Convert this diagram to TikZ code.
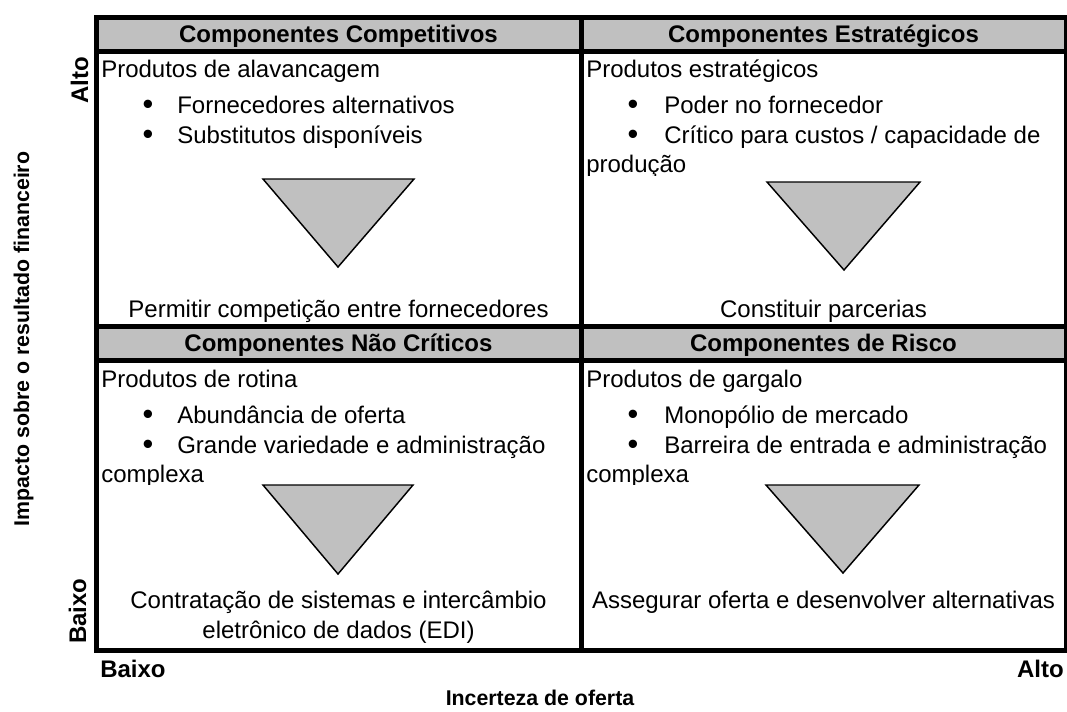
\documentclass[tikz,border=0pt]{standalone}
\usepackage{fontspec}
\setmainfont{Liberation Sans}
\usepackage{xcolor}
\definecolor{bandgray}{RGB}{192,192,192}

\begin{document}
\begin{tikzpicture}[x=0.75pt,y=0.75pt,yscale=-1,xscale=1,
  txt/.style={inner sep=0pt,font=\fontsize{18}{21.6}\selectfont},
  dot/.style={inner sep=0pt,anchor=base,font=\fontsize{23}{24}\selectfont},
  head/.style={inner sep=0pt,anchor=base,font=\fontsize{18}{21.6}\selectfont\bfseries},
  axis/.style={inner sep=0pt,font=\fontsize{18}{21.6}\selectfont\bfseries},
  axistitle/.style={inner sep=0pt,anchor=base,font=\fontsize{16}{19}\selectfont\bfseries},
  gridline/.style={line width=3.75pt},
  funnel/.style={fill=bandgray,line width=1.1pt}]
\useasboundingbox (0,0) rectangle (1067,711);

% Header bands
\fill[bandgray] (96,17) rectangle (1066,51);
\fill[bandgray] (96,326) rectangle (1066,360);

% Grid
\draw[gridline] (96,17) rectangle (1066,650);
\draw[gridline] (96,51) -- (1066,51);
\draw[gridline] (96,326) -- (1066,326);
\draw[gridline] (96,360) -- (1066,360);
\draw[gridline] (581,17) -- (581,650);

% Funnels
\draw[funnel] (263,179) -- (414,179) -- (338,267) -- cycle;
\draw[funnel] (767,182) -- (920,182) -- (844,270) -- cycle;
\draw[funnel] (263,485) -- (413,485) -- (338,574) -- cycle;
\draw[funnel] (766,485) -- (919,485) -- (843,573) -- cycle;

% Header Text Nodes
\node[head] (hcomp) at (338.5,42) {Componentes Competitivos};
\node[head] (hestr) at (823.5,42) {Componentes Estratégicos};
\node[head] (hnaoc) at (338.5,351) {Componentes Não Críticos};
\node[head] (hrisc) at (823.5,351) {Componentes de Risco};

% Top left
\node[txt,anchor=base west] (tl0) at (101,77) {Produtos de alavancagem};
\node[dot] (tlb1) at (148,114) {•};
\node[txt,anchor=base west] (tl1) at (177,113) {Fornecedores alternativos};
\node[dot] (tlb2) at (148,144) {•};
\node[txt,anchor=base west] (tl2) at (177,143) {Substitutos disponíveis};
\node[txt,anchor=base] (tlact) at (338.5,317) {Permitir competição entre fornecedores};

% Top right
\node[txt,anchor=base west] (tr0) at (586,77) {Produtos estratégicos};
\node[dot] (trb1) at (633,114) {•};
\node[txt,anchor=base west] (tr1) at (664,113) {Poder no fornecedor};
\node[dot] (trb2) at (633,144) {•};
\node[txt,anchor=base west] (tr2) at (664,143) {Crítico para custos / capacidade de};
\begin{scope}
\clip (584,150) rectangle (1063,175);
\node[txt,anchor=base west] (tr3) at (586,172) {produção};
\end{scope}
\node[txt,anchor=base] (tract) at (823.5,317) {Constituir parcerias};

% Bottom left
\node[txt,anchor=base west] (bl0) at (101,387) {Produtos de rotina};
\node[dot] (blb1) at (148,424) {•};
\node[txt,anchor=base west] (bl1) at (177,423) {Abundância de oferta};
\node[dot] (blb2) at (148,454) {•};
\node[txt,anchor=base west] (bl2) at (177,453) {Grande variedade e administração};
\begin{scope}
\clip (99,460) rectangle (578,484);
\node[txt,anchor=base west] (bl3) at (101,482) {complexa};
\end{scope}
\node[txt,anchor=base] (blact) at (338.5,608) {Contratação de sistemas e intercâmbio};
\node[txt,anchor=base] (blact2) at (338.5,638) {eletrônico de dados (EDI)};

% Bottom right
\node[txt,anchor=base west] (br0) at (586,387) {Produtos de gargalo};
\node[dot] (brb1) at (633,424) {•};
\node[txt,anchor=base west] (br1) at (664,423) {Monopólio de mercado};
\node[dot] (brb2) at (633,454) {•};
\node[txt,anchor=base west] (br2) at (664,453) {Barreira de entrada e administração};
\begin{scope}
\clip (584,460) rectangle (1063,484);
\node[txt,anchor=base west] (br3) at (586,482) {complexa};
\end{scope}
\node[txt,anchor=base] (bract) at (823.5,608) {Assegurar oferta e desenvolver alternativas};

% Axis labels
\node[axis,anchor=base,rotate=90] (yalto) at (88,80) {Alto};
\node[axis,anchor=base,rotate=90] (ybaixo) at (86,611) {Baixo};
\node[axistitle,rotate=90] (ytitle) at (29,339) {Impacto sobre o resultado financeiro};
\node[axis,anchor=base west] (xbaixo) at (100,677) {Baixo};
\node[axis,anchor=base east] (xalto) at (1064,677) {Alto};
\node[axistitle] (xtitle) at (540,705) {Incerteza de oferta};

\end{tikzpicture}
\end{document}
